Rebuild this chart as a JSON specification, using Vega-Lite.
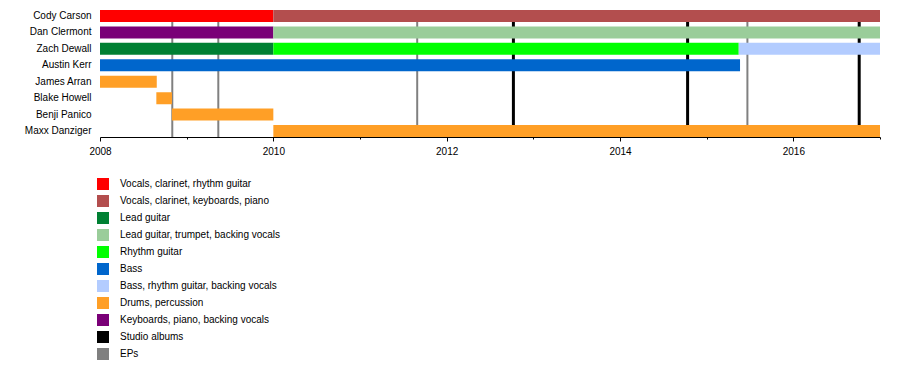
{
  "$schema": "https://vega.github.io/schema/vega-lite/v6.json",
  "width": 780,
  "height": 127,
  "autosize": {"type": "none"},
  "padding": {"left": 100, "top": 10, "right": 20, "bottom": 239},
  "background": "white",
  "config": {
    "view": {"stroke": null},
    "font": "Liberation Sans",
    "axis": {"grid": false}
  },
  "datasets": {
    "spans": [
      {"member": "Cody Carson", "start": 2008.0, "end": 2010.0, "role": "Vocals, clarinet, rhythm guitar"},
      {"member": "Cody Carson", "start": 2010.0, "end": 2017.0, "role": "Vocals, clarinet, keyboards, piano"},
      {"member": "Dan Clermont", "start": 2008.0, "end": 2010.0, "role": "Keyboards, piano, backing vocals"},
      {"member": "Dan Clermont", "start": 2010.0, "end": 2017.0, "role": "Lead guitar, trumpet, backing vocals"},
      {"member": "Zach Dewall", "start": 2008.0, "end": 2010.0, "role": "Lead guitar"},
      {"member": "Zach Dewall", "start": 2010.0, "end": 2015.37, "role": "Rhythm guitar"},
      {"member": "Zach Dewall", "start": 2015.37, "end": 2017.0, "role": "Bass, rhythm guitar, backing vocals"},
      {"member": "Austin Kerr", "start": 2008.0, "end": 2015.385, "role": "Bass"},
      {"member": "James Arran", "start": 2008.0, "end": 2008.655, "role": "Drums, percussion"},
      {"member": "Blake Howell", "start": 2008.65, "end": 2008.83, "role": "Drums, percussion"},
      {"member": "Benji Panico", "start": 2008.83, "end": 2010.0, "role": "Drums, percussion"},
      {"member": "Maxx Danziger", "start": 2010.0, "end": 2017.0, "role": "Drums, percussion"}
    ],
    "releases": [
      {"date": 2008.834, "role": "EPs"},
      {"date": 2009.365, "role": "EPs"},
      {"date": 2011.66, "role": "EPs"},
      {"date": 2015.47, "role": "EPs"},
      {"date": 2012.77, "role": "Studio albums"},
      {"date": 2014.78, "role": "Studio albums"},
      {"date": 2016.76, "role": "Studio albums"}
    ]
  },
  "layer": [
    {
      "data": {"name": "releases"},
      "transform": [{"filter": "datum.role == 'EPs'"}],
      "mark": {"type": "rule", "strokeWidth": 2},
      "encoding": {
        "x": {"field": "date", "type": "quantitative"},
        "color": {"field": "role", "type": "nominal"}
      }
    },
    {
      "data": {"name": "releases"},
      "transform": [{"filter": "datum.role == 'Studio albums'"}],
      "mark": {"type": "rule", "strokeWidth": 3},
      "encoding": {
        "x": {"field": "date", "type": "quantitative"},
        "color": {"field": "role", "type": "nominal"}
      }
    },
    {
      "data": {"name": "spans"},
      "mark": {"type": "bar"},
      "encoding": {
        "y": {
          "field": "member",
          "type": "nominal",
          "sort": ["Cody Carson", "Dan Clermont", "Zach Dewall", "Austin Kerr", "James Arran", "Blake Howell", "Benji Panico", "Maxx Danziger"],
          "scale": {"paddingInner": 0.27, "paddingOuter": 0},
          "axis": {
            "title": null,
            "domain": false,
            "ticks": false,
            "labelFontSize": 10,
            "labelColor": "black",
            "labelPadding": 9
          }
        },
        "x": {
          "field": "start",
          "type": "quantitative",
          "scale": {"domain": [2008, 2017], "nice": false, "zero": false},
          "axis": {
            "title": null,
            "values": [2008, 2009, 2010, 2011, 2012, 2013, 2014, 2015, 2016, 2017],
            "labelExpr": "datum.value % 2 == 0 && datum.value < 2017 ? format(datum.value, 'd') : ''",
            "domainColor": "black",
            "domainWidth": 1,
            "tickColor": "black",
            "tickSize": {"condition": {"test": "datum.value % 2 == 0", "value": 4}, "value": 2},
            "labelFontSize": 10,
            "labelColor": "black",
            "labelPadding": 5,
            "labelFlush": false
          }
        },
        "x2": {"field": "end"},
        "color": {
          "field": "role",
          "type": "nominal",
          "scale": {
            "domain": ["Vocals, clarinet, rhythm guitar", "Vocals, clarinet, keyboards, piano", "Lead guitar", "Lead guitar, trumpet, backing vocals", "Rhythm guitar", "Bass", "Bass, rhythm guitar, backing vocals", "Drums, percussion", "Keyboards, piano, backing vocals", "Studio albums", "EPs"],
            "range": ["#FF0000", "#B34E4E", "#008033", "#9ACD9A", "#00FF00", "#0066CC", "#B3CCFF", "#FF9F26", "#7A0077", "#000000", "#808080"]
          },
          "legend": {
            "title": null,
            "orient": "none",
            "legendX": -3,
            "legendY": 168,
            "padding": 0,
            "symbolType": "square",
            "symbolSize": 144,
            "symbolStrokeWidth": 0,
            "symbolOpacity": 1,
            "rowPadding": 5,
            "labelOffset": 11,
            "labelFontSize": 10,
            "labelColor": "black",
            "labelLimit": 400
          }
        }
      }
    }
  ]
}
